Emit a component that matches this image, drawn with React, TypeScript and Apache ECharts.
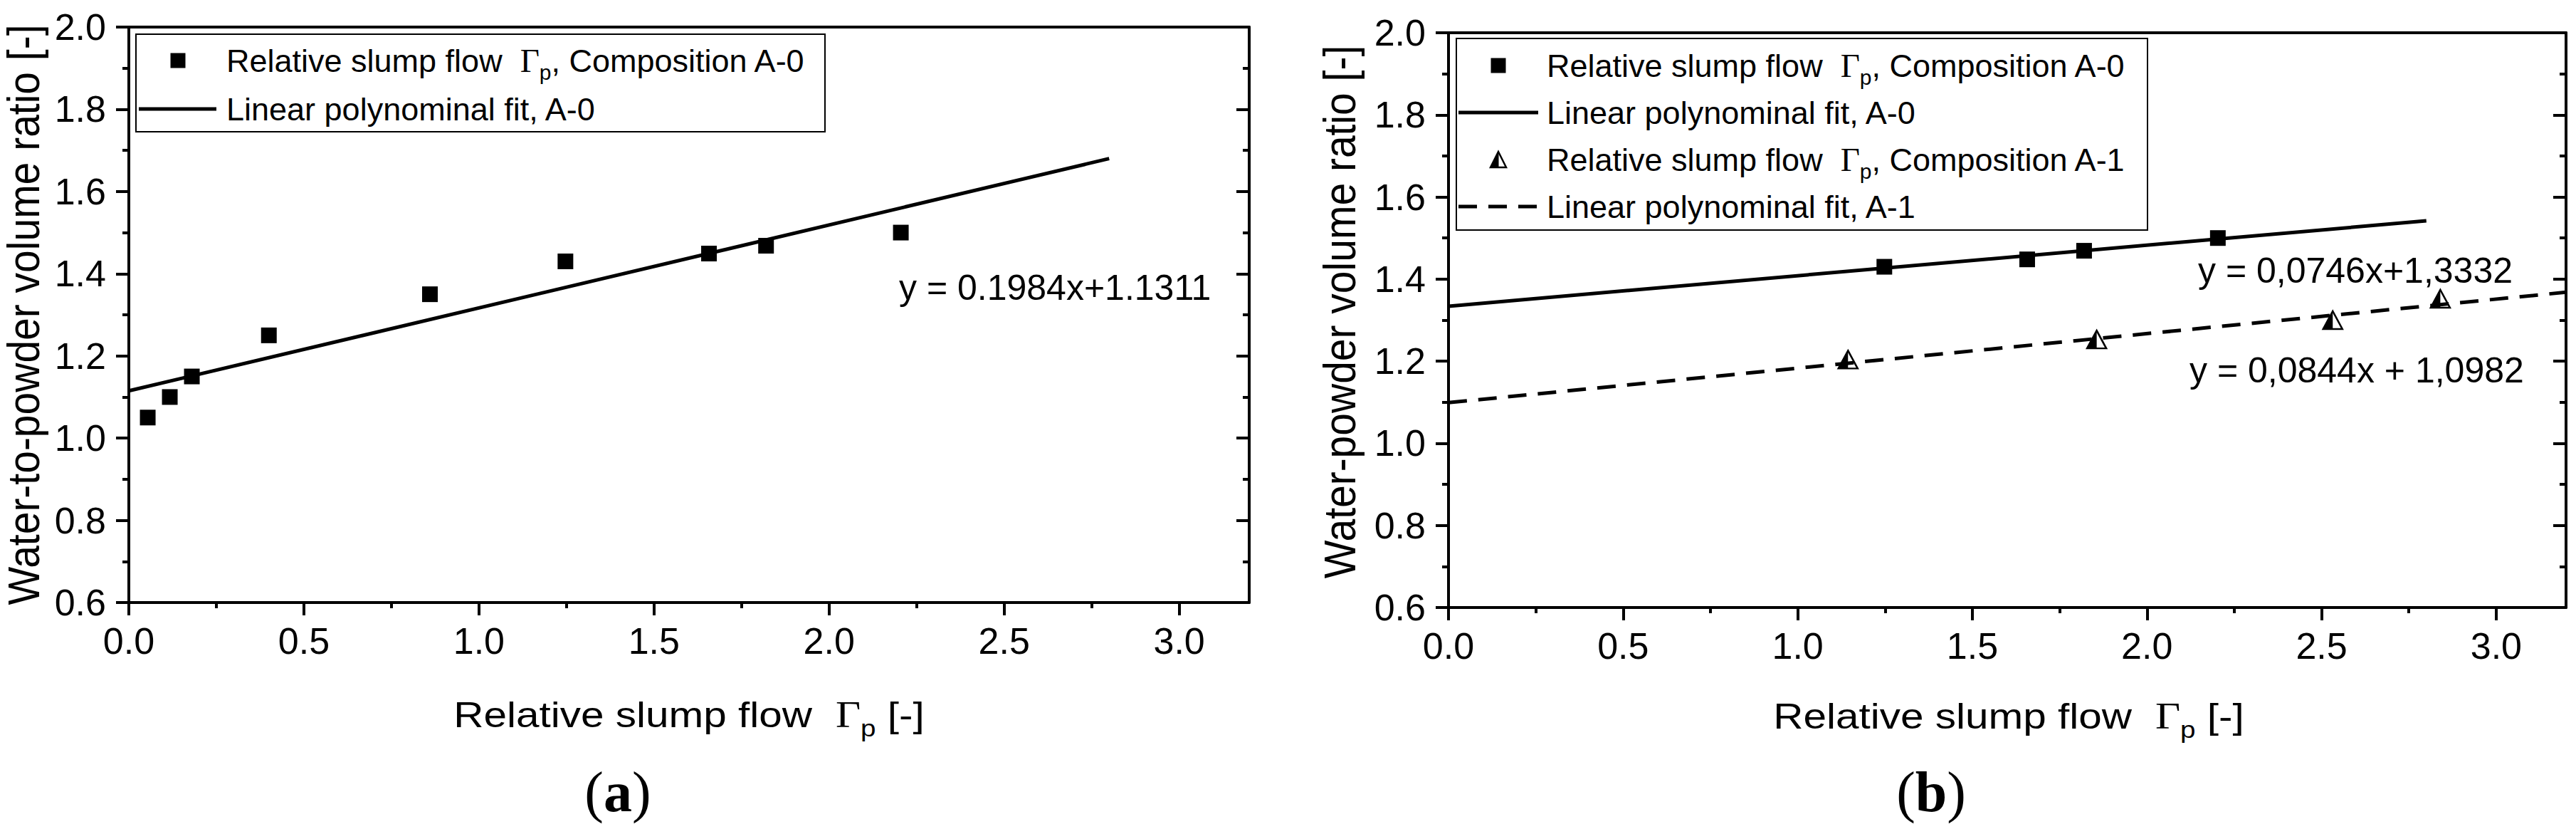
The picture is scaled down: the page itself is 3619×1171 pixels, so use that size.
import React, { useEffect, useRef } from 'react';
import * as echarts from 'echarts';

// ---------- data ----------
const xTicks = [0, 0.5, 1.0, 1.5, 2.0, 2.5, 3.0];
const xMinor = [0.25, 0.75, 1.25, 1.75, 2.25, 2.75];
const yTicks = [0.6, 0.8, 1.0, 1.2, 1.4, 1.6, 1.8, 2.0];
const yMinor = [0.7, 0.9, 1.1, 1.3, 1.5, 1.7, 1.9];

// panel (a) – composition A-0
const aA0X = [0.054, 0.117, 0.18, 0.40, 0.86, 1.247, 1.657, 1.82, 2.205];
const aA0Y = [1.05, 1.10, 1.15, 1.25, 1.35, 1.43, 1.449, 1.468, 1.50];
const aFitX = [0, 2.8];
const aFitY = [1.115, 1.68];

// panel (b)
const bA0X = [1.248, 1.657, 1.82, 2.203];
const bA0Y = [1.43, 1.448, 1.469, 1.50];
const bA1X = [1.144, 1.856, 2.532, 2.84];
const bA1Y = [1.204, 1.253, 1.30, 1.352];
const bFit0X = [0, 2.8];
const bFit0Y = [1.334, 1.542];
const bFit1X = [0, 3.2];
const bFit1Y = [1.099, 1.368];

const eqA = 'y = 0.1984x+1.1311';
const eqB0 = 'y = 0,0746x+1,3332';
const eqB1 = 'y = 0,0844x + 1,0982';

// ---------- styling ----------
const FONT = '"Liberation Sans", Arial, Helvetica, sans-serif';
const SERIF = '"Liberation Serif", "Times New Roman", serif';
const BLACK = '#000';
const AXW = 4;
const LW = 5;
const DASH = [26, 16];

const zip = (xs: number[], ys: number[]) => xs.map((x, i) => [x, ys[i]]);

function axesFor(grid: number) {
  const common = { type: 'value', gridIndex: grid, splitLine: { show: false } };
  const tickStyle = { color: BLACK, width: AXW };
  const xs = [
    {
      ...common, position: 'bottom', min: 0, max: 3.2,
      axisLine: { show: true, onZero: false, lineStyle: { color: BLACK, width: AXW } },
      axisTick: { show: true, inside: false, length: 18, lineStyle: tickStyle, customValues: xTicks },
      axisLabel: {
        show: true, customValues: xTicks, formatter: (v: number) => v.toFixed(1),
        fontSize: 52, color: BLACK, fontFamily: FONT, margin: 28,
      },
    },
    {
      ...common, position: 'bottom', min: 0, max: 3.2,
      axisLine: { show: false, onZero: false },
      axisTick: { show: true, inside: false, length: 8, lineStyle: tickStyle, customValues: xMinor },
      axisLabel: { show: false },
    },
    {
      ...common, position: 'top', min: 0, max: 3.2,
      axisLine: { show: true, onZero: false, lineStyle: { color: BLACK, width: AXW } },
      axisTick: { show: false },
      axisLabel: { show: false },
    },
  ];
  const ys = [
    {
      ...common, position: 'left', min: 0.6, max: 2.0,
      axisLine: { show: true, onZero: false, lineStyle: { color: BLACK, width: AXW } },
      axisTick: { show: true, inside: false, length: 18, lineStyle: tickStyle, customValues: yTicks },
      axisLabel: {
        show: true, customValues: yTicks, formatter: (v: number) => v.toFixed(1),
        fontSize: 52, color: BLACK, fontFamily: FONT, margin: 32,
      },
    },
    {
      ...common, position: 'left', min: 0.6, max: 2.0,
      axisLine: { show: false, onZero: false },
      axisTick: { show: true, inside: false, length: 9, lineStyle: tickStyle, customValues: yMinor },
      axisLabel: { show: false },
    },
    {
      ...common, position: 'right', min: 0.6, max: 2.0,
      axisLine: { show: true, onZero: false, lineStyle: { color: BLACK, width: AXW } },
      axisTick: { show: true, inside: true, length: 18, lineStyle: tickStyle, customValues: yTicks },
      axisLabel: { show: false },
    },
    {
      ...common, position: 'right', min: 0.6, max: 2.0,
      axisLine: { show: false, onZero: false },
      axisTick: { show: true, inside: true, length: 9, lineStyle: tickStyle, customValues: yMinor },
      axisLabel: { show: false },
    },
  ];
  return { xs, ys };
}

const richBase = (size: number) => ({
  n: { fontSize: size, fontFamily: FONT, fill: BLACK, color: BLACK, lineHeight: Math.round(size * 1.4) },
  g: { fontSize: size + 2, fontFamily: SERIF, fill: BLACK, color: BLACK, lineHeight: Math.round(size * 1.4), padding: [0, 0, 0, Math.round(size * 0.56)] },
  s: { fontSize: Math.round(size * 0.66), fontFamily: FONT, fill: BLACK, color: BLACK, lineHeight: Math.round(size * 0.66), verticalAlign: 'bottom' },
});

function richText(x: number, y: number, text: string, size: number, extra: any = {}) {
  return {
    type: 'text', x, y, z: 100, silent: true,
    ...extra,
    style: {
      text, rich: richBase(size), fill: BLACK, fontSize: size, fontFamily: FONT,
      align: extra.align || 'left', verticalAlign: 'middle',
    },
  };
}

function plainText(x: number, y: number, text: string, size: number, align = 'left', extra: any = {}) {
  return {
    type: 'text', x, y, z: 100, silent: true, ...extra,
    style: { text, fill: BLACK, fontSize: size, fontFamily: FONT, align, verticalAlign: 'middle' },
  };
}

function panelLabel(x: number, y: number, letter: string) {
  return {
    type: 'text', x, y, z: 100, silent: true,
    style: {
      text: `{p|(}{b|${letter}}{p|)}`,
      rich: {
        p: { fontSize: 80, fontFamily: SERIF, fill: BLACK },
        b: { fontSize: 80, fontFamily: SERIF, fontWeight: 'bold', fill: BLACK },
      },
      fontSize: 80, fontFamily: SERIF, fill: BLACK, align: 'center', verticalAlign: 'middle',
    },
  };
}

const LEG = 45;
const slumpLabel = (c: string) => `{n|Relative slump flow}{g|Γ}{s|p}{n|, Composition ${c}}`;

export default function App() {
  const ref = useRef<HTMLDivElement>(null);
  useEffect(() => {
    document.body.style.margin = '0';
    if (!ref.current) return;
    const chart = echarts.init(ref.current, undefined, { renderer: 'svg' });
    const a = axesFor(0);
    const b = axesFor(1);
    const xAxis = [...a.xs, ...b.xs];
    const yAxis = [...a.ys, ...b.ys];

    const graphic: any[] = [
      // legend (a)
      { type: 'rect', z: 90, shape: { x: 191, y: 48, width: 968, height: 137 }, style: { fill: '#fff', stroke: BLACK, lineWidth: 2 } },
      { type: 'rect', z: 100, shape: { x: 239.5, y: 74.5, width: 21, height: 21 }, style: { fill: BLACK } },
      richText(318, 85, slumpLabel('A-0'), LEG),
      { type: 'line', z: 100, shape: { x1: 195, y1: 153, x2: 304, y2: 153 }, style: { stroke: BLACK, lineWidth: LW } },
      plainText(318, 153, 'Linear polynominal fit, A-0', LEG),
      // legend (b)
      { type: 'rect', z: 90, shape: { x: 2046, y: 54, width: 971, height: 269 }, style: { fill: '#fff', stroke: BLACK, lineWidth: 2 } },
      { type: 'rect', z: 100, shape: { x: 2094.5, y: 81.5, width: 21, height: 21 }, style: { fill: BLACK } },
      richText(2173, 92, slumpLabel('A-0'), LEG),
      { type: 'line', z: 100, shape: { x1: 2049, y1: 158, x2: 2161, y2: 158 }, style: { stroke: BLACK, lineWidth: LW } },
      plainText(2173, 158, 'Linear polynominal fit, A-0', LEG),
      { type: 'polygon', z: 100, shape: { points: [[2094, 235], [2105, 213], [2116, 235]] }, style: { fill: '#fff', stroke: BLACK, lineWidth: 2.5 } },
      { type: 'polygon', z: 101, shape: { points: [[2105, 213], [2094, 235], [2105, 235]] }, style: { fill: BLACK, stroke: BLACK, lineWidth: 1 } },
      richText(2173, 224, slumpLabel('A-1'), LEG),
      { type: 'line', z: 100, shape: { x1: 2049, y1: 290, x2: 2161, y2: 290 }, style: { stroke: BLACK, lineWidth: LW, lineDash: DASH } },
      plainText(2173, 290, 'Linear polynominal fit, A-1', LEG),
      // equations
      plainText(1263, 404, eqA, 50),
      plainText(3088, 380, eqB0, 50),
      plainText(3076, 520, eqB1, 50),
      // axis titles (a)
      plainText(34, 442, 'Water-to-powder volume ratio [-]', 57, 'center', { rotation: Math.PI / 2, scaleY: 1.1 }),
      richText(968, 1004, '{n|Relative slump flow}{g|Γ}{s|p}{n| [-]}', 50, { align: 'center', scaleX: 1.17 }),
      panelLabel(868, 1112, 'a'),
      // axis titles (b)
      plainText(1883, 438, 'Water-powder volume ratio [-]', 57, 'center', { rotation: Math.PI / 2, scaleY: 1.1 }),
      richText(2822, 1006, '{n|Relative slump flow}{g|Γ}{s|p}{n| [-]}', 50, { align: 'center', scaleX: 1.17 }),
      panelLabel(2713, 1112, 'b'),
    ];

    const halfTri = 'path://M1,0 L0,1 L1,1 Z';
    const solid = { color: BLACK, opacity: 1 };

    chart.setOption({
      animation: false,
      textStyle: { fontFamily: FONT },
      grid: [
        { left: 181, top: 38, width: 1574, height: 808 },
        { left: 2035, top: 46, width: 1570, height: 807 },
      ],
      xAxis,
      yAxis,
      series: [
        {
          type: 'line', xAxisIndex: 0, yAxisIndex: 0, data: zip(aFitX, aFitY),
          symbol: 'none', lineStyle: { color: BLACK, width: LW }, silent: true,
        },
        {
          type: 'scatter', xAxisIndex: 0, yAxisIndex: 0, data: zip(aA0X, aA0Y),
          symbol: 'rect', symbolSize: 22, itemStyle: solid, silent: true,
        },
        {
          type: 'line', xAxisIndex: 3, yAxisIndex: 4, data: zip(bFit0X, bFit0Y),
          symbol: 'none', lineStyle: { color: BLACK, width: LW }, silent: true,
        },
        {
          type: 'line', xAxisIndex: 3, yAxisIndex: 4, data: zip(bFit1X, bFit1Y),
          symbol: 'none', lineStyle: { color: BLACK, width: LW, type: DASH }, silent: true,
        },
        {
          type: 'scatter', xAxisIndex: 3, yAxisIndex: 4, data: zip(bA0X, bA0Y),
          symbol: 'rect', symbolSize: 22, itemStyle: solid, silent: true,
        },
        {
          type: 'scatter', xAxisIndex: 3, yAxisIndex: 4, data: zip(bA1X, bA1Y),
          symbol: 'triangle', symbolSize: [27, 25],
          itemStyle: { color: '#fff', opacity: 1, borderColor: BLACK, borderWidth: 2.5 }, silent: true,
        },
        {
          type: 'scatter', xAxisIndex: 3, yAxisIndex: 4, data: zip(bA1X, bA1Y),
          symbol: halfTri, symbolSize: [13.5, 25], symbolOffset: [-6.75, 0],
          itemStyle: solid, silent: true,
        },
      ],
      graphic,
    });
    return () => chart.dispose();
  }, []);
  return <div ref={ref} style={{ width: 3619, height: 1171, background: '#fff' }} />;
}
